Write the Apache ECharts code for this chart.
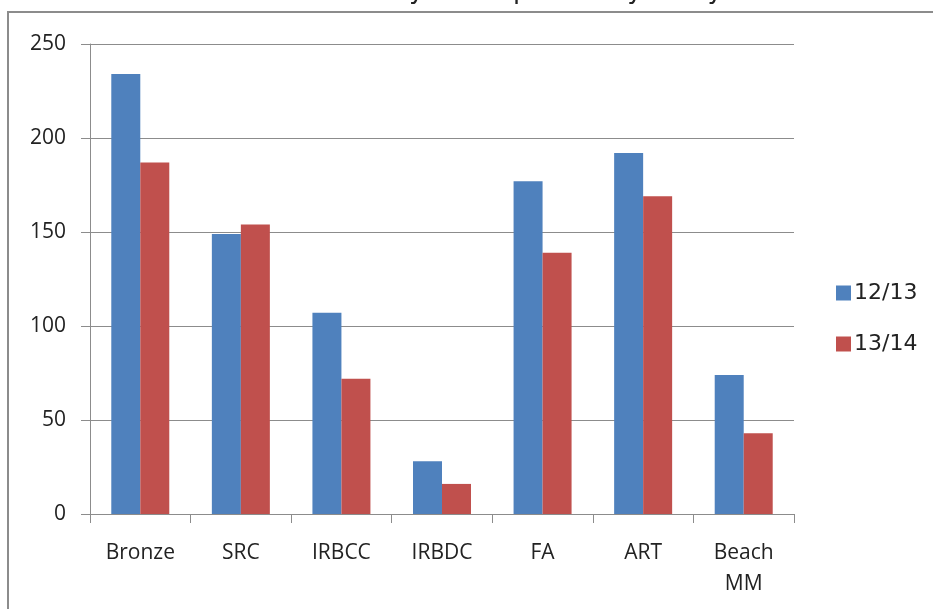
<!DOCTYPE html>
<html>
<head>
<meta charset="utf-8">
<script src="https://cdn.jsdelivr.net/npm/echarts@6/dist/echarts.min.js"></script>
<style>
  html, body { margin: 0; padding: 0; background: #fff; }
  #chart { width: 933px; height: 609px; }
</style>
</head>
<body>
<div id="chart"></div>
<script>
var categories = ["Bronze", "SRC", "IRBCC", "IRBDC", "FA", "ART", "Beach\nMM"];
var season1213 = [234, 149, 107, 28, 177, 192, 74];
var season1314 = [187, 154, 72, 16, 139, 169, 43];
var seriesNames = ["12/13", "13/14"];

var labelFont = "'Liberation Sans Narrow', 'Open Sans', sans-serif";

var chart = echarts.init(document.getElementById("chart"));
chart.setOption({
  backgroundColor: "#fff",
  animation: false,
  graphic: [
    {
      type: "text",
      left: 34,
      top: -22,
      style: {
        text: "o    Statistics are from 01 May \u2013 30 April in any one year",
        font: "26px 'DejaVu Sans', sans-serif",
        fill: "#222"
      }
    },
    {
      type: "polyline",
      shape: { points: [[8, 609], [8, 12], [933, 12]] },
      style: { stroke: "#8c8c8c", lineWidth: 2, fill: null }
    }
  ],
  grid: {
    left: 90,
    right: 139,
    top: 44,
    bottom: 95,
    containLabel: false
  },
  legend: {
    orient: "vertical",
    left: 831,
    top: 277,
    itemWidth: 15,
    itemHeight: 15,
    itemGap: 29,
    icon: "rect",
    textStyle: {
      fontSize: 22,
      fontFamily: "'DejaVu Sans', sans-serif",
      color: "#222",
      padding: [0, 0, 0, -2]
    },
    data: seriesNames
  },
  xAxis: {
    type: "category",
    data: categories,
    axisLine: { lineStyle: { color: "#8c8c8c", width: 1 } },
    axisTick: { show: true, length: 9, alignWithLabel: false, lineStyle: { color: "#8c8c8c" } },
    axisLabel: {
      interval: 0,
      margin: 24,
      fontSize: 21,
      lineHeight: 31,
      fontFamily: labelFont,
      color: "#222",
      verticalAlign: "top"
    }
  },
  yAxis: {
    type: "value",
    min: 0,
    max: 250,
    interval: 50,
    axisLine: { show: true, lineStyle: { color: "#8c8c8c", width: 1 } },
    axisTick: { show: true, length: 9, lineStyle: { color: "#8c8c8c" } },
    splitLine: { show: true, lineStyle: { color: "#8c8c8c", width: 1 } },
    axisLabel: {
      margin: 24,
      fontSize: 21,
      fontFamily: labelFont,
      color: "#222"
    }
  },
  series: [
    {
      name: seriesNames[0],
      type: "bar",
      barWidth: 29,
      barGap: "0%",
      itemStyle: { color: "#4f81bd" },
      data: season1213
    },
    {
      name: seriesNames[1],
      type: "bar",
      barWidth: 29,
      barGap: "0%",
      itemStyle: { color: "#c0504d" },
      data: season1314
    }
  ]
});
</script>
</body>
</html>
